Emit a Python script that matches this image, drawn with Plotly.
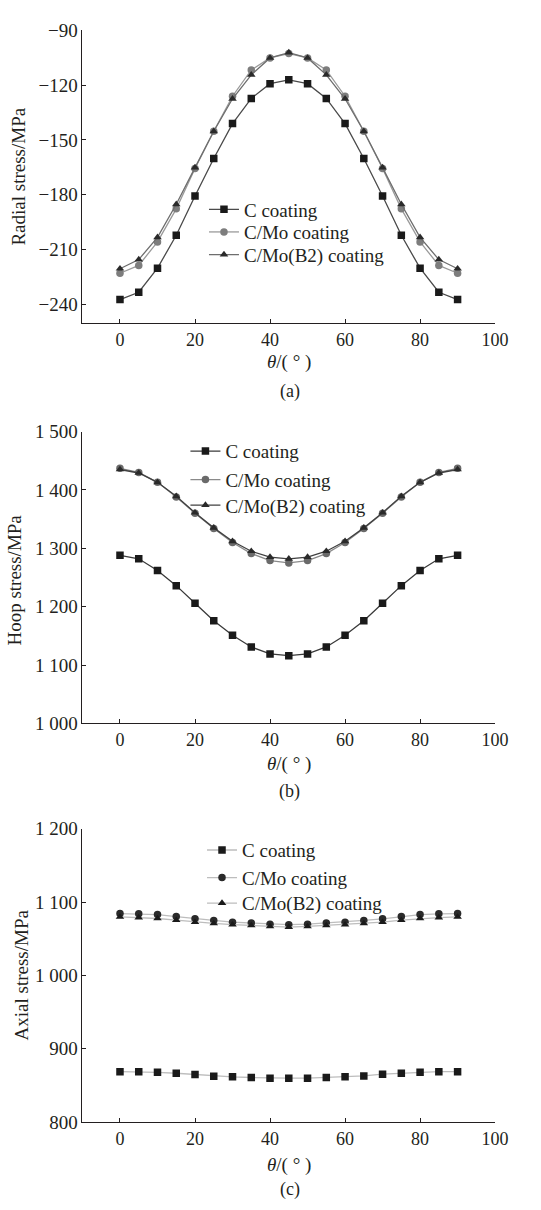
import plotly.graph_objects as go

theta = [0, 5, 10, 15, 20, 25, 30, 35, 40, 45, 50, 55, 60, 65, 70, 75, 80, 85, 90]
series_names = ["C coating", "C/Mo coating", "C/Mo(B2) coating"]

radial_C = [-237.5, -233.5, -220.3, -202.3, -180.8, -160.2, -141.1, -127.3, -119.2, -117.1,
            -119.2, -127.3, -141.1, -160.2, -180.8, -202.3, -220.3, -233.5, -237.5]
radial_Mo = [-223.1, -218.8, -205.9, -187.8, -165.7, -145.3, -126.1, -111.7, -105.1, -102.7,
             -105.1, -111.7, -126.1, -145.3, -165.7, -187.8, -205.9, -218.8, -223.1]
radial_B2 = [-220.6, -215.6, -203.4, -185.3, -165.2, -145.3, -127.5, -114.4, -105.1, -102.2,
             -105.1, -114.4, -127.5, -145.3, -165.2, -185.3, -203.4, -215.6, -220.6]

hoop_C = [1288, 1282, 1262, 1236, 1206, 1176, 1151, 1131, 1119, 1116,
          1119, 1131, 1151, 1176, 1206, 1236, 1262, 1282, 1288]
hoop_Mo = [1437, 1430, 1413, 1388, 1360, 1334, 1310, 1291, 1279, 1275,
           1279, 1291, 1310, 1334, 1360, 1388, 1413, 1430, 1437]
hoop_B2 = [1435, 1429, 1413, 1389, 1361, 1335, 1312, 1295, 1285, 1282,
           1285, 1295, 1312, 1335, 1361, 1389, 1413, 1429, 1435]

axial_C = [868.8, 868.8, 867.9, 866.6, 864.8, 862.6, 861.7, 860.8, 859.9, 859.9,
           859.9, 860.8, 861.7, 863.0, 865.3, 866.6, 867.9, 868.8, 868.8]
axial_Mo = [1084.4, 1084.0, 1083.0, 1080.3, 1077.2, 1075.0, 1072.7, 1071.4, 1070.0, 1069.2,
            1070.0, 1071.4, 1072.7, 1075.0, 1077.2, 1080.3, 1083.0, 1084.0, 1084.4]
axial_B2 = [1079.9, 1079.0, 1077.7, 1075.4, 1072.7, 1071.0, 1069.2, 1068.3, 1066.9, 1066.0,
            1066.9, 1068.3, 1069.2, 1071.0, 1072.7, 1075.4, 1077.7, 1079.0, 1079.9]

x_ticks = [0, 20, 40, 60, 80, 100]
radial_ticks = [-90, -120, -150, -180, -210, -240]
radial_ticktext = ["\u221290", "\u2212120", "\u2212150", "\u2212180", "\u2212210", "\u2212240"]
hoop_ticks = [1000, 1100, 1200, 1300, 1400, 1500]
hoop_ticktext = ["1 000", "1 100", "1 200", "1 300", "1 400", "1 500"]
axial_ticks = [800, 900, 1000, 1100, 1200]
axial_ticktext = ["800", "900", "1 000", "1 100", "1 200"]

W, H = 541, 1210
FONT = "Liberation Serif, Times New Roman, serif"
TXT = "#231f20"

def py(px):
    return 1 - px / H

fig = go.Figure()

panels = [
    # (yaxis id, data, line colours, marker colours, legend rows y px, legend left px)
    ("y", [radial_C, radial_Mo, radial_B2], ["#4a4a4a", "#9a9a9a", "#6e6e6e"],
     ["#1a1a1a", "#7d7d7d", "#2a2a2a"], [203, 226, 249], 209),
    ("y2", [hoop_C, hoop_Mo, hoop_B2], ["#3a3a3a", "#8a8a8a", "#404040"],
     ["#1a1a1a", "#6a6a6a", "#2a2a2a"], [449, 478, 504], 190),
    ("y3", [axial_C, axial_Mo, axial_B2], ["#bdbdbd", "#bdbdbd", "#bdbdbd"],
     ["#1a1a1a", "#2a2a2a", "#1a1a1a"], [855, 883, 909], 207),
]
symbols = ["square", "circle", "triangle-up"]
sizes = [7.5, 7.5, 7.5]

leg_idx = 0
for p, (yid, data, lcols, mcols, rows, lleft) in enumerate(panels):
    xid = "x" if p == 0 else "x%d" % (p + 1)
    for k in range(3):
        leg_idx += 1
        lname = "legend" if leg_idx == 1 else "legend%d" % leg_idx
        fig.add_trace(go.Scatter(
            x=theta, y=data[k], xaxis=xid, yaxis=yid, mode="lines+markers",
            name=series_names[k], legend=lname, showlegend=True,
            line=dict(color=lcols[k], width=1.3),
            marker=dict(symbol=symbols[k], size=sizes[k], color=mcols[k],
                        line=dict(width=0)),
        ))
        fig.update_layout(**{lname: dict(
            x=lleft / W, y=py(rows[k]), xref="paper", yref="paper",
            xanchor="left", yanchor="middle", bgcolor="rgba(0,0,0,0)",
            borderwidth=0, font=dict(family=FONT, size=19, color=TXT),
            itemwidth=30,
        )})

xdom = [84.5 / W, 507.3 / W]
ydoms = [[py(319), py(20.7)], [py(726), py(429)], [py(1131.7), py(833.3)]]
yranges = [[-250.6, -90], [1000, 1500], [800, 1200]]
ytv = [radial_ticks, hoop_ticks, axial_ticks]
ytt = [radial_ticktext, hoop_ticktext, axial_ticktext]

axis_common = dict(showline=True, linecolor="#231f20", linewidth=1, ticks="inside",
                   ticklen=4, tickwidth=1, tickcolor="#231f20", showgrid=False,
                   zeroline=False, mirror=False)

for p in range(3):
    xn = "xaxis" if p == 0 else "xaxis%d" % (p + 1)
    yn = "yaxis" if p == 0 else "yaxis%d" % (p + 1)
    ya = "y" if p == 0 else "y%d" % (p + 1)
    xa = "x" if p == 0 else "x%d" % (p + 1)
    fig.update_layout(**{
        xn: dict(domain=xdom, range=[-10, 100], anchor=ya, tickvals=x_ticks,
                 ticktext=[str(v) for v in x_ticks],
                 tickfont=dict(family=FONT, size=18, color=TXT), **axis_common),
        yn: dict(domain=ydoms[p], range=yranges[p], anchor=xa, tickvals=ytv[p],
                 ticktext=ytt[p], tickfont=dict(family=FONT, size=19, color=TXT),
                 **axis_common),
    })

ytitles = [("Radial stress/MPa", 19, 170), ("Hoop stress/MPa", 15, 580),
           ("Axial stress/MPa", 22, 982)]
xtitle_y = [358, 767, 1175]
sub_y = [388, 795, 1200]
sub_txt = ["(a)", "(b)", "(c)"]
ann = []
for p in range(3):
    t, xx, yy = ytitles[p]
    ann.append(dict(text=t, x=xx / W, y=py(yy), xref="paper", yref="paper",
                    xanchor="center", yanchor="middle", textangle=-90, showarrow=False,
                    font=dict(family=FONT, size=19, color=TXT)))
    ann.append(dict(text="<i>\u03b8</i>/( \u00b0 )", x=296 / W, y=py(xtitle_y[p]),
                    xref="paper", yref="paper", xanchor="center", yanchor="middle",
                    showarrow=False, font=dict(family=FONT, size=19, color=TXT)))
    ann.append(dict(text=sub_txt[p], x=297 / W, y=py(sub_y[p]), xref="paper", yref="paper",
                    xanchor="center", yanchor="middle", showarrow=False,
                    font=dict(family=FONT, size=18, color=TXT)))

fig.update_layout(width=W, height=H, margin=dict(l=0, r=0, t=0, b=0),
                  paper_bgcolor="white", plot_bgcolor="white", annotations=ann,
                  font=dict(family=FONT, color=TXT))

fig.write_html("out.html")
